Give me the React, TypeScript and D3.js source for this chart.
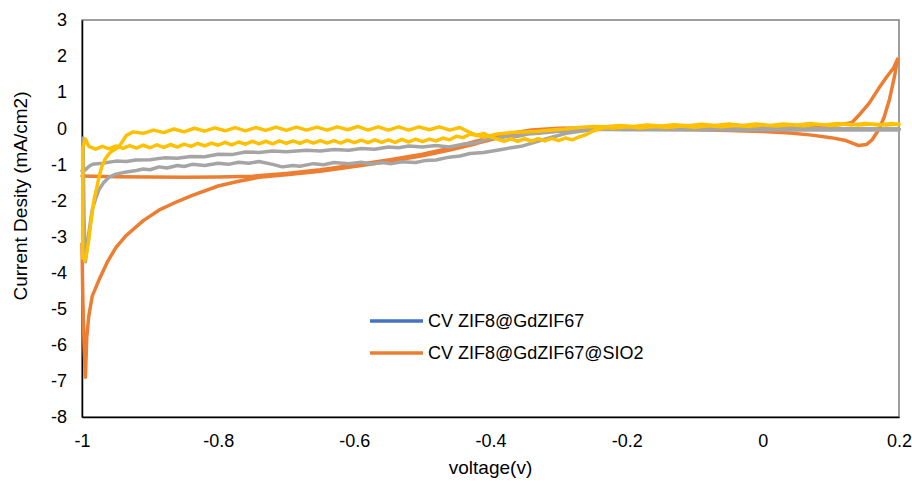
import React, { useEffect, useRef } from "react";
import * as d3 from "d3";

// voltage / current density
const xTicks = [-1, -0.8, -0.6, -0.4, -0.2, 0, 0.2];
const yTicks = [3, 2, 1, 0, -1, -2, -3, -4, -5, -6, -7, -8];

const legendNames = ["CV ZIF8@GdZIF67", "CV ZIF8@GdZIF67@SIO2"];

const blueCv: [number, number][] = [[-0.2, -0.03], [0.0, -0.03], [0.2, -0.03]];

const orangeCv: [number, number][] = [
  [-1.0, -1.32], [-0.95, -1.34], [-0.9, -1.35], [-0.85, -1.36], [-0.8, -1.35], [-0.75, -1.33],
  [-0.7, -1.25], [-0.65, -1.15], [-0.6, -1.02], [-0.55, -0.88], [-0.5, -0.72], [-0.46, -0.55],
  [-0.42, -0.35], [-0.38, -0.17], [-0.34, -0.05], [-0.3, 0.0], [-0.2, 0.02], [-0.1, 0.03],
  [0.0, 0.04], [0.05, 0.05], [0.1, 0.08], [0.12, 0.12], [0.131, 0.16], [0.141, 0.36],
  [0.156, 0.69], [0.17, 1.1], [0.181, 1.4], [0.192, 1.67], [0.198, 1.92],
  [0.193, 1.4], [0.186, 0.8], [0.178, 0.3], [0.17, -0.05], [0.16, -0.33], [0.152, -0.45],
  [0.141, -0.48], [0.122, -0.34], [0.1, -0.26], [0.072, -0.19], [0.04, -0.13], [0.0, -0.09],
  [-0.05, -0.06], [-0.1, -0.04], [-0.2, -0.02], [-0.3, -0.03], [-0.34, -0.1], [-0.38, -0.22],
  [-0.42, -0.42], [-0.46, -0.6], [-0.5, -0.76], [-0.55, -0.92], [-0.6, -1.06], [-0.65, -1.19],
  [-0.7, -1.29], [-0.74, -1.36], [-0.77, -1.47], [-0.8, -1.6], [-0.838, -1.86], [-0.86, -2.03],
  [-0.887, -2.27], [-0.91, -2.56], [-0.935, -2.97], [-0.95, -3.3], [-0.962, -3.68],
  [-0.975, -4.2], [-0.985, -4.65], [-0.99, -5.2], [-0.993, -5.8], [-0.995, -6.9],
  [-0.997, -6.0], [-0.999, -4.5], [-1.0, -3.2],
];

const grayCv: [number, number][] = [
  [-0.9985, -0.27], [-0.997, -2.5], [-0.995, -3.7], [-0.99, -2.9], [-0.985, -2.25],
  [-0.98, -1.95], [-0.975, -1.7], [-0.968, -1.5], [-0.96, -1.35], [-0.95, -1.27],
  [-0.935, -1.21], [-0.92, -1.17], [-0.91, -1.13], [-0.9, -1.15], [-0.887, -1.07],
  [-0.875, -1.1], [-0.86, -1.03], [-0.85, -1.06], [-0.838, -1.0], [-0.82, -1.03],
  [-0.8, -0.97], [-0.785, -1.0], [-0.77, -0.94], [-0.755, -0.97], [-0.74, -0.92],
  [-0.72, -1.0], [-0.706, -1.07], [-0.69, -1.03], [-0.68, -1.05], [-0.66, -0.98],
  [-0.645, -1.01], [-0.63, -0.95], [-0.608, -0.98], [-0.59, -0.94], [-0.575, -0.99],
  [-0.56, -0.95], [-0.545, -0.98], [-0.53, -0.93], [-0.51, -0.95], [-0.495, -0.89],
  [-0.48, -0.88], [-0.461, -0.8], [-0.445, -0.77], [-0.43, -0.7], [-0.41, -0.67],
  [-0.388, -0.6], [-0.37, -0.54], [-0.355, -0.5], [-0.339, -0.41], [-0.32, -0.3],
  [-0.31, -0.25], [-0.289, -0.14], [-0.26, -0.06], [-0.245, -0.03], [-0.2, -0.04],
  [-0.1, -0.04], [0.0, -0.05], [0.1, -0.05], [0.2, -0.05],
  [0.2, -0.02], [0.1, -0.01], [0.0, 0.0], [-0.1, 0.0], [-0.2, -0.02], [-0.25, -0.03],
  [-0.3, -0.08], [-0.329, -0.14], [-0.345, -0.16], [-0.36, -0.22], [-0.375, -0.22],
  [-0.388, -0.27], [-0.405, -0.3], [-0.42, -0.4], [-0.44, -0.44], [-0.461, -0.52],
  [-0.48, -0.48], [-0.5, -0.52], [-0.52, -0.49], [-0.535, -0.54], [-0.55, -0.52],
  [-0.57, -0.58], [-0.59, -0.56], [-0.608, -0.61], [-0.63, -0.59], [-0.65, -0.63],
  [-0.67, -0.61], [-0.7, -0.65], [-0.72, -0.63], [-0.74, -0.67], [-0.76, -0.66],
  [-0.78, -0.73], [-0.8, -0.72], [-0.82, -0.79], [-0.84, -0.78], [-0.86, -0.83],
  [-0.88, -0.82], [-0.9, -0.87], [-0.921, -0.88], [-0.935, -0.92], [-0.95, -0.91],
  [-0.97, -0.97], [-0.985, -1.0], [-0.99, -1.06], [-0.995, -1.15], [-1.0, -1.18],
];

const yellowCv: [number, number][] = [
  [-0.999, -3.6], [-0.999, -0.55], [-0.995, -0.3], [-0.99, -0.5], [-0.98, -0.58],
  [-0.97, -0.5], [-0.96, -0.57], [-0.95, -0.49], [-0.94, -0.56], [-0.93, -0.48],
  [-0.92, -0.55], [-0.91, -0.47], [-0.9, -0.54], [-0.89, -0.46], [-0.88, -0.53],
  [-0.87, -0.45], [-0.86, -0.52], [-0.85, -0.44], [-0.84, -0.5], [-0.83, -0.42],
  [-0.82, -0.49], [-0.81, -0.41], [-0.8, -0.47], [-0.79, -0.39], [-0.78, -0.46],
  [-0.77, -0.38], [-0.76, -0.44], [-0.75, -0.36], [-0.74, -0.43], [-0.73, -0.36],
  [-0.72, -0.43], [-0.71, -0.35], [-0.7, -0.42], [-0.69, -0.35], [-0.68, -0.42],
  [-0.67, -0.34], [-0.66, -0.41], [-0.65, -0.34], [-0.64, -0.41], [-0.63, -0.34],
  [-0.62, -0.41], [-0.61, -0.33], [-0.6, -0.4], [-0.59, -0.33], [-0.58, -0.4],
  [-0.57, -0.32], [-0.56, -0.39], [-0.55, -0.32], [-0.54, -0.39], [-0.53, -0.31],
  [-0.52, -0.38], [-0.51, -0.3], [-0.5, -0.37], [-0.49, -0.3], [-0.48, -0.35],
  [-0.47, -0.27], [-0.46, -0.32], [-0.45, -0.22], [-0.44, -0.26], [-0.43, -0.16],
  [-0.42, -0.2], [-0.41, -0.14], [-0.4, -0.24], [-0.39, -0.3], [-0.38, -0.36],
  [-0.37, -0.29], [-0.36, -0.36], [-0.35, -0.29], [-0.34, -0.36], [-0.33, -0.29],
  [-0.32, -0.35], [-0.31, -0.28], [-0.3, -0.34], [-0.29, -0.27], [-0.28, -0.32],
  [-0.27, -0.24], [-0.26, -0.18], [-0.25, -0.08], [-0.24, -0.02], [-0.23, 0.02],
  [-0.22, 0.0], [-0.2, 0.04], [-0.18, 0.01], [-0.16, 0.05], [-0.14, 0.02], [-0.12, 0.06],
  [-0.1, 0.03], [-0.08, 0.07], [-0.06, 0.04], [-0.04, 0.08], [-0.02, 0.05], [0.0, 0.09],
  [0.02, 0.06], [0.04, 0.1], [0.06, 0.07], [0.08, 0.11], [0.1, 0.08], [0.12, 0.12],
  [0.14, 0.09], [0.16, 0.12], [0.18, 0.09], [0.2, 0.12],
  [0.2, 0.1], [0.19, 0.13], [0.17, 0.09], [0.15, 0.13], [0.13, 0.09], [0.11, 0.13],
  [0.09, 0.09], [0.07, 0.13], [0.05, 0.09], [0.03, 0.12], [0.01, 0.08], [-0.01, 0.12],
  [-0.03, 0.08], [-0.05, 0.12], [-0.07, 0.08], [-0.09, 0.11], [-0.11, 0.07], [-0.13, 0.1],
  [-0.15, 0.06], [-0.17, 0.09], [-0.19, 0.05], [-0.21, 0.08], [-0.23, 0.04], [-0.25, 0.05],
  [-0.27, 0.02], [-0.29, -0.02], [-0.31, -0.05], [-0.33, -0.08], [-0.35, -0.1],
  [-0.37, -0.12], [-0.39, -0.16], [-0.41, -0.25], [-0.43, -0.12], [-0.445, 0.02],
  [-0.46, -0.05], [-0.475, 0.04], [-0.49, -0.04], [-0.505, 0.04], [-0.52, -0.05],
  [-0.535, 0.04], [-0.55, -0.05], [-0.565, 0.04], [-0.58, -0.05], [-0.595, 0.05],
  [-0.61, -0.04], [-0.625, 0.04], [-0.64, -0.05], [-0.655, 0.03], [-0.67, -0.05],
  [-0.685, 0.03], [-0.7, -0.06], [-0.715, 0.03], [-0.73, -0.06], [-0.745, 0.02],
  [-0.76, -0.07], [-0.775, 0.02], [-0.79, -0.07], [-0.805, 0.01], [-0.82, -0.08],
  [-0.835, 0.0], [-0.85, -0.1], [-0.865, -0.02], [-0.88, -0.12], [-0.895, -0.05],
  [-0.91, -0.14], [-0.925, -0.1], [-0.935, -0.2], [-0.94, -0.35], [-0.946, -0.52],
  [-0.955, -0.62], [-0.96, -0.7], [-0.966, -0.85], [-0.971, -1.07], [-0.975, -1.35],
  [-0.978, -1.62], [-0.982, -1.95], [-0.985, -2.34], [-0.988, -2.75], [-0.99, -3.08],
  [-0.993, -3.45], [-0.996, -3.68],
];

const fontFamily = "'Liberation Sans', Arial, sans-serif";

const CvChart = () => {
  const ref = useRef<SVGSVGElement | null>(null);

  useEffect(() => {
    const width = 912;
    const height = 484;
    const margin = { top: 20, right: 13, bottom: 67, left: 82 };

    const svg = d3.select(ref.current);
    svg.selectAll("*").remove();

    const x = d3.scaleLinear().domain([-1, 0.2]).range([margin.left, width - margin.right]);
    const y = d3.scaleLinear().domain([-8, 3]).range([height - margin.bottom, margin.top]);

    const fmt = (d: number) => String(d);

    // plot frame
    svg.append("rect")
      .attr("x", x(-1))
      .attr("y", y(3))
      .attr("width", x(0.2) - x(-1))
      .attr("height", y(-8) - y(3))
      .attr("fill", "none")
      .attr("stroke", "#7f7f7f")
      .attr("stroke-width", 1.5);

    const yAxis = svg.append("g")
      .attr("transform", `translate(${x(-1)},0)`)
      .call(d3.axisLeft(y).tickValues(yTicks).tickSize(0).tickPadding(15).tickFormat(fmt as any));
    yAxis.select(".domain").attr("stroke", "#000").attr("stroke-width", 1.5);
    yAxis.selectAll("text").attr("font-size", 18).attr("font-family", fontFamily).attr("fill", "#000");

    const xAxis = svg.append("g")
      .attr("transform", `translate(0,${y(-8)})`)
      .call(d3.axisBottom(x).tickValues(xTicks).tickSize(0).tickPadding(17).tickFormat(fmt as any));
    xAxis.select(".domain").attr("stroke", "#000").attr("stroke-width", 1.5);
    xAxis.selectAll("text").attr("font-size", 18).attr("font-family", fontFamily).attr("fill", "#000");

    const line = d3.line<[number, number]>()
      .x(d => x(d[0]))
      .y(d => y(d[1]));

    const series = [
      { data: blueCv, color: "#4472C4" },
      { data: orangeCv, color: "#ED7D31" },
      { data: grayCv, color: "#A5A5A5" },
      { data: yellowCv, color: "#FFC000" },
    ];

    svg.append("g")
      .selectAll("path")
      .data(series)
      .enter()
      .append("path")
      .attr("d", d => line(d.data))
      .attr("fill", "none")
      .attr("stroke", d => d.color)
      .attr("stroke-width", 3.5)
      .attr("stroke-linejoin", "round")
      .attr("stroke-linecap", "round");

    // legend
    const legend = svg.append("g").attr("transform", "translate(370,321)");
    const legendColors = ["#4472C4", "#ED7D31"];
    legendNames.forEach((name, i) => {
      legend.append("line")
        .attr("x1", 0).attr("x2", 53)
        .attr("y1", i * 32).attr("y2", i * 32)
        .attr("stroke", legendColors[i])
        .attr("stroke-width", 3.5);
      legend.append("text")
        .attr("x", 58)
        .attr("y", i * 32)
        .attr("dy", "0.35em")
        .attr("font-size", 18)
        .attr("font-family", fontFamily)
        .text(name);
    });

    svg.append("text")
      .attr("x", (x(-1) + x(0.2)) / 2)
      .attr("y", 474)
      .attr("text-anchor", "middle")
      .attr("font-size", 19)
      .attr("font-family", fontFamily)
      .text("voltage(v)");

    svg.append("text")
      .attr("transform", "translate(27,196) rotate(-90)")
      .attr("text-anchor", "middle")
      .attr("font-size", 19)
      .attr("font-family", fontFamily)
      .text("Current Desity (mA/cm2)");
  }, []);

  return (
    <svg
      ref={ref}
      width={912}
      height={484}
      style={{ position: "absolute", left: 0, top: 0, background: "#fff" }}
    />
  );
};

export default function App() {
  return <CvChart />;
}
